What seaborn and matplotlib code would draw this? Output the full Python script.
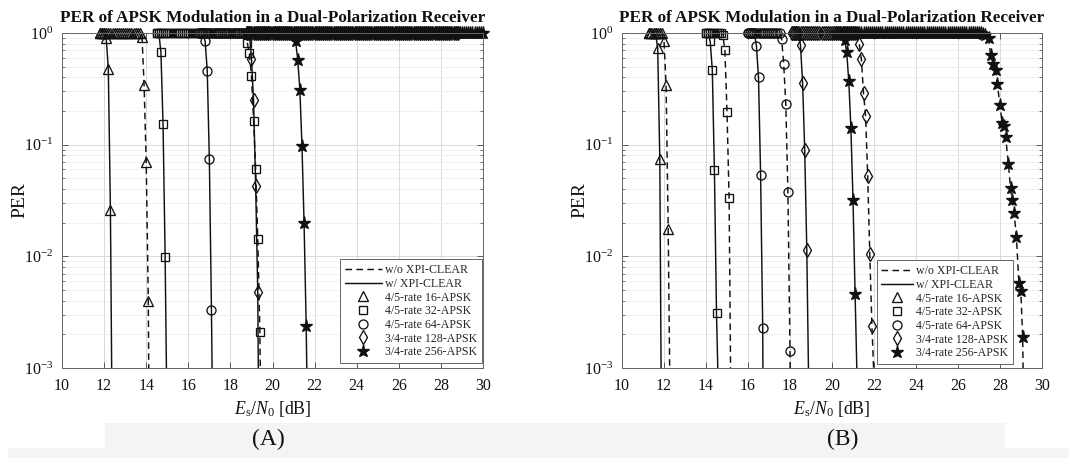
import numpy as np
import pandas as pd
import matplotlib
matplotlib.use("Agg")
import matplotlib.pyplot as plt
from matplotlib.lines import Line2D
from matplotlib.patches import Rectangle
from matplotlib.ticker import LogLocator, NullFormatter, LogFormatterMathtext
import seaborn as sns

# ---------------- data ----------------
SNR_STEP = 0.1  # simulation SNR grid step [dB]
modulations = ["4/5-rate 16-APSK", "4/5-rate 32-APSK", "4/5-rate 64-APSK",
               "3/4-rate 128-APSK", "3/4-rate 256-APSK"]
conditions = ["w/o XPI-CLEAR", "w/ XPI-CLEAR"]
x_ticks = [10, 12, 14, 16, 18, 20, 22, 24, 26, 28, 30]

# Panel A: SNR range where PER = 1 (start, end)
a_plateau_wo = [(11.8, 13.7), (14.5, 18.7), (16.5, 28.8), (18.8, 28.8), (18.8, 30.0)]
a_plateau_w = [(11.8, 12.0), (14.5, 14.6), (16.5, 16.7), (18.8, 18.9), (18.8, 21.0)]
# Panel A waterfall points
a16_wo_snr = [13.8, 13.9, 14.0, 14.1, 14.2]
a16_wo_per = [0.93, 0.34, 0.070, 0.0040, 4e-6]
a16_w_snr = [12.1, 12.2, 12.3, 12.4]
a16_w_per = [0.90, 0.48, 0.026, 1.1e-4]
a32_wo_snr = [18.8, 18.9, 19.0, 19.1, 19.2, 19.3, 19.4, 19.5]
a32_wo_per = [0.82, 0.66, 0.41, 0.164, 0.060, 0.0143, 0.0021, 5e-5]
a32_w_snr = [14.7, 14.8, 14.9, 15.0]
a32_w_per = [0.67, 0.152, 0.0098, 2.2e-4]
a64_wo_snr = []
a64_wo_per = []
a64_w_snr = [16.8, 16.9, 17.0, 17.1, 17.2]
a64_w_per = [0.84, 0.46, 0.074, 0.0033, 6e-5]
a128_wo_snr = []
a128_wo_per = []
a128_w_snr = [19.0, 19.1, 19.2, 19.3, 19.4]
a128_w_per = [0.59, 0.25, 0.043, 0.0048, 1e-5]
a256_wo_snr = []
a256_wo_per = []
a256_w_snr = [21.1, 21.2, 21.3, 21.4, 21.5, 21.6, 21.7]
a256_w_per = [0.84, 0.57, 0.31, 0.098, 0.0198, 0.0024, 1e-4]

# Panel B: SNR range where PER = 1 (start, end)
b_plateau_wo = [(11.3, 11.9), (14.0, 14.7), (16.0, 17.5), (18.1, 21.2), (20.2, 27.0)]
b_plateau_w = [(11.3, 11.6), (14.0, 14.1), (16.0, 16.3), (18.1, 18.4), (20.2, 20.5)]
# Panel B waterfall points
b16_wo_snr = [12.0, 12.1, 12.2, 12.3]
b16_wo_per = [0.84, 0.34, 0.0175, 3e-4]
b16_w_snr = [11.7, 11.8, 11.9]
b16_w_per = [0.73, 0.074, 5.6e-5]
b32_wo_snr = [14.8, 14.9, 15.0, 15.1, 15.2]
b32_wo_per = [0.96, 0.70, 0.198, 0.033, 2.2e-4]
b32_w_snr = [14.2, 14.3, 14.4, 14.5, 14.6]
b32_w_per = [0.84, 0.47, 0.059, 0.0031, 4.8e-4]
b64_wo_snr = [17.6, 17.7, 17.8, 17.9, 18.0, 18.1]
b64_wo_per = [0.88, 0.53, 0.23, 0.038, 0.00143, 1e-6]
b64_w_snr = [16.4, 16.5, 16.6, 16.7, 16.8]
b64_w_per = [0.77, 0.40, 0.054, 0.0023, 1e-6]
b128_wo_snr = [21.3, 21.4, 21.5, 21.6, 21.7, 21.8, 21.9, 22.0]
b128_wo_per = [0.79, 0.58, 0.29, 0.18, 0.052, 0.0104, 0.0024, 8e-4]
b128_w_snr = [18.5, 18.6, 18.7, 18.8, 18.9]
b128_w_per = [0.78, 0.355, 0.090, 0.0114, 5e-4]
b256_wo_snr = [27.1, 27.2, 27.3, 27.46, 27.55, 27.67, 27.79, 27.88, 27.99, 28.11,
               28.19, 28.27, 28.40, 28.50, 28.57, 28.67, 28.78, 28.90, 28.99, 29.08, 29.2]
b256_wo_per = [0.99, 0.98, 0.96, 0.90, 0.64, 0.53, 0.47, 0.35, 0.225, 0.156,
               0.147, 0.117, 0.067, 0.041, 0.032, 0.0246, 0.015, 0.0058, 0.0049, 0.0019, 3e-5]
b256_w_snr = [20.6, 20.7, 20.8, 20.9, 21.0, 21.1, 21.2]
b256_w_per = [0.87, 0.67, 0.37, 0.14, 0.032, 0.0046, 7e-4]

panel_a = {
    "wo": [(a16_wo_snr, a16_wo_per), (a32_wo_snr, a32_wo_per), (a64_wo_snr, a64_wo_per),
           (a128_wo_snr, a128_wo_per), (a256_wo_snr, a256_wo_per)],
    "w": [(a16_w_snr, a16_w_per), (a32_w_snr, a32_w_per), (a64_w_snr, a64_w_per),
          (a128_w_snr, a128_w_per), (a256_w_snr, a256_w_per)],
}
panel_b = {
    "wo": [(b16_wo_snr, b16_wo_per), (b32_wo_snr, b32_wo_per), (b64_wo_snr, b64_wo_per),
           (b128_wo_snr, b128_wo_per), (b256_wo_snr, b256_wo_per)],
    "w": [(b16_w_snr, b16_w_per), (b32_w_snr, b32_w_per), (b64_w_snr, b64_w_per),
          (b128_w_snr, b128_w_per), (b256_w_snr, b256_w_per)],
}

# ---------------- style ----------------
sns.set_theme(style="white")
plt.rcParams['font.family'] = ['Liberation Serif', 'DejaVu Serif']
plt.rcParams['mathtext.fontset'] = 'custom'
plt.rcParams['mathtext.rm'] = 'Liberation Serif'
plt.rcParams['mathtext.it'] = 'Liberation Serif:italic'
plt.rcParams['mathtext.bf'] = 'Liberation Serif:bold'

markers = ['^', 's', 'o', 'd', '*']
msizes = [6.5, 5.5, 6.5, 7, 9.5]
DASH = (0, (4.5, 3))
INK = '#111111'
MEW = 0.95


def build_curve(plateau, snr, per):
    s, e = plateau
    flat = np.round(np.arange(s, e + SNR_STEP / 2, SNR_STEP), 2)
    x = np.concatenate([flat, np.asarray(snr, float)])
    y = np.concatenate([np.ones_like(flat), np.asarray(per, float)])
    return pd.DataFrame({"snr": x, "per": y})


def draw_panel(ax, plateau_wo, plateau_w, panel, legend_anchor, handlelen):
    ax.set_yscale('log')
    for cond, plateaus, dashed in (("wo", plateau_wo, True), ("w", plateau_w, False)):
        for i in range(5):
            df = build_curve(plateaus[i], *panel[cond][i])
            sns.lineplot(data=df, x="snr", y="per", ax=ax, color=INK, linewidth=1.05,
                         linestyle=DASH if dashed else '-', estimator=None,
                         errorbar=None, sort=False)
    for cond, plateaus in (("wo", plateau_wo), ("w", plateau_w)):
        for i in range(5):
            df = build_curve(plateaus[i], *panel[cond][i])
            vis = df[(df.per >= 1e-3) & (df.per <= 1.0)]
            filled = markers[i] == '*'
            sns.lineplot(data=vis, x="snr", y="per", ax=ax, color=INK, linestyle='none',
                         marker=markers[i], markersize=msizes[i],
                         markerfacecolor=INK if filled else 'none',
                         markeredgecolor=INK, markeredgewidth=MEW,
                         estimator=None, errorbar=None, sort=False, clip_on=False)

    ax.set_xlim(10, 30)
    ax.set_ylim(1e-3, 1)
    ax.set_xticks(x_ticks)
    ax.yaxis.set_major_locator(LogLocator(base=10, numticks=10))
    ax.yaxis.set_major_formatter(LogFormatterMathtext())
    ax.yaxis.set_minor_locator(LogLocator(base=10, subs=np.arange(2, 10), numticks=10))
    ax.yaxis.set_minor_formatter(NullFormatter())
    ax.grid(True, which='major', color='#d9d9d9', linewidth=0.7)
    ax.grid(True, which='minor', axis='y', color='#d9d9d9', linestyle=':', linewidth=0.7)
    ax.set_axisbelow(True)
    ax.tick_params(axis='both', which='major', direction='in', length=4, width=0.6,
                   top=True, right=True, bottom=True, left=True, labelsize=11.5,
                   pad=6, color='#444444', labelcolor='#111111')
    ax.tick_params(axis='x', which='major', pad=7.5)
    ax.tick_params(axis='y', which='minor', direction='in', length=2.2, width=0.5,
                   left=True, right=True, color='#444444')
    for sp in ax.spines.values():
        sp.set_color('#666666')
        sp.set_linewidth(0.7)
    ax.set_title("PER of APSK Modulation in a Dual-Polarization Receiver",
                 fontsize=12.3, fontweight='bold', pad=8, color='#111111')
    ax.set_xlabel(r"$E_{\mathrm{s}}/N_{0}$ [dB]", fontsize=12.8, labelpad=3.5, color='#111111')
    ax.set_ylabel("PER", fontsize=14, labelpad=-3, color='#111111')

    handles = [Line2D([], [], color=INK, linestyle=DASH, linewidth=1.05),
               Line2D([], [], color=INK, linestyle='-', linewidth=1.05)]
    for i in range(5):
        filled = markers[i] == '*'
        handles.append(Line2D([], [], color=INK, linestyle='none', marker=markers[i],
                              markersize=msizes[i], markeredgewidth=MEW,
                              markerfacecolor=INK if filled else 'none',
                              markeredgecolor=INK))
    labels = conditions + modulations
    leg = ax.legend(handles, labels, loc='lower right', bbox_to_anchor=legend_anchor,
                    borderaxespad=0, fontsize=8.6, frameon=True, fancybox=False,
                    framealpha=1, edgecolor='#666666', handlelength=handlelen,
                    handletextpad=0.3, labelspacing=0.14, borderpad=0.4)
    leg.get_frame().set_linewidth(0.7)


fig = plt.figure(figsize=(10.69, 4.58), dpi=100)
fig.patch.set_facecolor('white')
W, H = 1069, 458
# light band under the panels
fig.patches.append(Rectangle((105 / W, 0), (1005 - 105) / W, (H - 423) / H,
                             transform=fig.transFigure, facecolor='#f4f4f4',
                             edgecolor='none', zorder=0))
fig.patches.append(Rectangle((8 / W, 0), 1 - 8 / W, (H - 448) / H,
                             transform=fig.transFigure, facecolor='#f4f4f4',
                             edgecolor='none', zorder=0))

axA = fig.add_axes([62 / W, 1 - 368 / H, 421 / W, 335 / H])
axB = fig.add_axes([622 / W, 1 - 368 / H, 420 / W, 335 / H])
draw_panel(axA, a_plateau_wo, a_plateau_w, panel_a, (0.998, 0.015), 3.1)
draw_panel(axB, b_plateau_wo, b_plateau_w, panel_b, (0.931, 0.012), 2.6)

fig.text(268 / W, 1 - 439 / H, "(A)", ha='center', va='center', fontsize=17, color='#111111')
fig.text(843 / W, 1 - 439 / H, "(B)", ha='center', va='center', fontsize=17, color='#111111')

fig.savefig("out.png", dpi=100, facecolor='white')
